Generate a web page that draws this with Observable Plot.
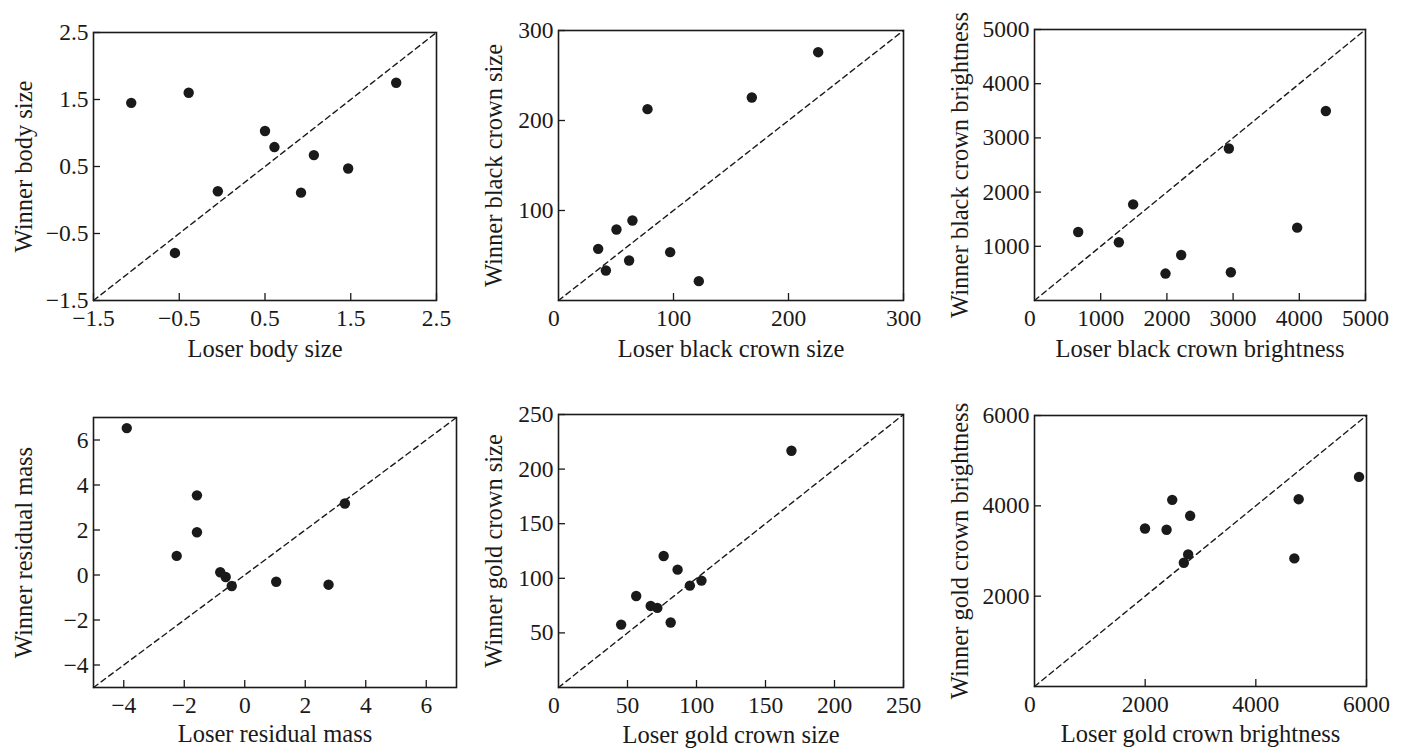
<!DOCTYPE html>
<html>
<head>
<meta charset="utf-8">
<script src="https://cdn.jsdelivr.net/npm/d3@7"></script>
<script src="https://cdn.jsdelivr.net/npm/@observablehq/plot@0.6"></script>
<style>
html, body { margin: 0; padding: 0; background: #fff; }
#root { position: relative; width: 1405px; height: 753px; overflow: hidden; background: #fff; }
#root svg { position: absolute; overflow: visible; }
</style>
</head>
<body>
<div id="root"></div>
<script>
// ---- Data ----
const bodyLoser  = [-1.06, -0.39, 0.50, 0.61, 1.07, 1.47, 2.03, -0.05, 0.92, -0.55];
const bodyWinner = [1.45, 1.60, 1.03, 0.79, 0.67, 0.47, 1.75, 0.13, 0.11, -0.79];

const blackSizeLoser  = [34.5, 41.2, 50.4, 64.3, 61.4, 77.4, 97.1, 122, 168.1, 225.8];
const blackSizeWinner = [57.4, 33.3, 78.9, 88.9, 44.4, 212.6, 53.7, 21.5, 225.6, 275.9];

const blackBrightLoser  = [660, 1274, 1490, 1979, 2216, 2936, 2966, 3968, 4401];
const blackBrightWinner = [1264, 1074, 1773, 497, 840, 2804, 521, 1344, 3497];

const massLoser  = [-3.90, -1.58, -1.58, -2.25, -0.81, -0.63, -0.43, 1.04, 2.77, 3.31];
const massWinner = [6.53, 3.54, 1.90, 0.85, 0.12, -0.09, -0.49, -0.30, -0.43, 3.18];

const goldSizeLoser  = [45.4, 56.3, 66.8, 71.6, 76.2, 81.3, 86.3, 95.2, 103.6, 168.8];
const goldSizeWinner = [57.6, 83.8, 74.7, 72.9, 120.4, 59.5, 107.9, 93.3, 97.9, 216.8];

const goldBrightLoser  = [1997, 2387, 2489, 2813, 2777, 2699, 4696, 4774, 5865];
const goldBrightWinner = [3499, 3470, 4133, 3779, 2925, 2740, 2836, 4147, 4641];

// ---- Axis domains, ticks and labels ----
const domains = [[-1.5, 2.5], [0, 300], [0, 5000], [-5, 7], [0, 250], [0, 6000]];
const tickSets = [
  [-1.5, -0.5, 0.5, 1.5, 2.5],
  [100, 200, 300],
  [1000, 2000, 3000, 4000, 5000],
  [-4, -2, 0, 2, 4, 6],
  [50, 100, 150, 200, 250],
  [2000, 4000, 6000]
];
const cornerZero = [false, true, true, false, true, true];
const xLabels = ["Loser body size", "Loser black crown size", "Loser black crown brightness",
                 "Loser residual mass", "Loser gold crown size", "Loser gold crown brightness"];
const yLabels = ["Winner body size", "Winner black crown size", "Winner black crown brightness",
                 "Winner residual mass", "Winner gold crown size", "Winner gold crown brightness"];
const losers  = [bodyLoser, blackSizeLoser, blackBrightLoser, massLoser, goldSizeLoser, goldBrightLoser];
const winners = [bodyWinner, blackSizeWinner, blackBrightWinner, massWinner, goldSizeWinner, goldBrightWinner];

// ---- Layout (positions/sizes) ----
const layout = [
  {left: 0,   top: 0,   width: 468, height: 376, mL: 93, mR: 32, mT: 32, mB: 76, ylDx: -69, xlDy: 56},
  {left: 468, top: 0,   width: 468, height: 376, mL: 90, mR: 33, mT: 30, mB: 76, ylDx: -64, xlDy: 56},
  {left: 936, top: 0,   width: 469, height: 376, mL: 98, mR: 40, mT: 29, mB: 76, ylDx: -74, xlDy: 56},
  {left: 0,   top: 376, width: 468, height: 377, mL: 93, mR: 12, mT: 41, mB: 66, ylDx: -69, xlDy: 54},
  {left: 468, top: 376, width: 468, height: 377, mL: 90, mR: 33, mT: 38, mB: 66, ylDx: -64, xlDy: 55},
  {left: 936, top: 376, width: 469, height: 377, mL: 98, mR: 39, mT: 39, mB: 67, ylDx: -74, xlDy: 55}
];

const INK = "#1a1a1a";
const FONT = "'Liberation Serif', 'Times New Roman', serif";
const fmt = d3.format("");

const root = document.getElementById("root");

for (let i = 0; i < 6; i++) {
  const L = layout[i];
  const pts = losers[i].map((x, j) => ({loser: x, winner: winners[i][j]}));
  const marks = [
    Plot.line(domains[i], {x: d => d, y: d => d, stroke: INK, strokeWidth: 1.4, strokeDasharray: "5.5,4"}),
    Plot.axisX({ticks: tickSets[i], tickSize: -7, tickPadding: 16, tickFormat: fmt, label: null, stroke: INK, fill: INK, strokeWidth: 1.3}),
    Plot.axisY({ticks: tickSets[i], tickSize: -7, tickPadding: 12, tickFormat: fmt, label: null, stroke: INK, fill: INK, strokeWidth: 1.3}),
    Plot.frame({stroke: INK, strokeWidth: 1.6}),
    Plot.dot(pts, {x: "loser", y: "winner", r: 5.2, fill: INK, stroke: null}),
    Plot.text([xLabels[i]], {text: d => d, frameAnchor: "bottom", textAnchor: "middle", dy: L.xlDy, fontSize: 24.5, fill: INK}),
    Plot.text([yLabels[i]], {text: d => d, frameAnchor: "left", textAnchor: "middle", dx: L.ylDx, rotate: -90, fontSize: 24.5, fill: INK})
  ];
  if (cornerZero[i]) {
    marks.push(Plot.text(["0"], {text: d => d, frameAnchor: "bottom-left", dx: -10.5, dy: 9, lineAnchor: "top", fill: INK}));
  }
  const svg = Plot.plot({
    width: L.width,
    height: L.height,
    marginLeft: L.mL,
    marginRight: L.mR,
    marginTop: L.mT,
    marginBottom: L.mB,
    style: {fontFamily: FONT, fontSize: "23.5px", color: INK, background: "transparent", overflow: "visible"},
    x: {domain: domains[i]},
    y: {domain: domains[i]},
    marks
  });
  svg.style.left = L.left + "px";
  svg.style.top = L.top + "px";
  root.appendChild(svg);
}
</script>
</body>
</html>
